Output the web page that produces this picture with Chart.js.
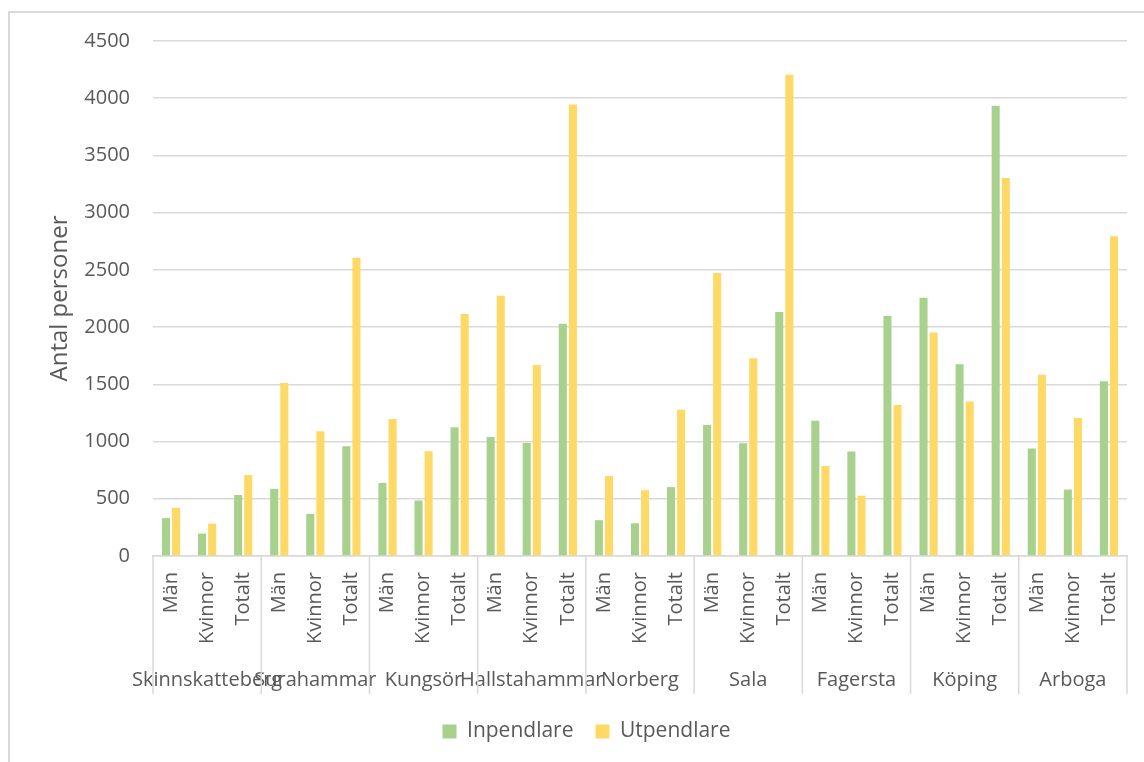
<!DOCTYPE html>
<html lang="sv">
<head>
<meta charset="utf-8">
<title>Pendling</title>
<script src="https://cdn.jsdelivr.net/npm/chart.js@4.4.1/dist/chart.umd.min.js"></script>
<style>
  html, body { margin: 0; padding: 0; background: #fff; }
  #wrap { position: relative; width: 1144px; height: 762px; overflow: hidden; }
  #frame { position: absolute; left: 8px; top: 11px; width: 1200px; height: 800px;
           border-left: 2px solid #d9d9d9; border-top: 2px solid #d9d9d9; }
  #chart { position: absolute; left: 0; top: 0; }
</style>
</head>
<body>
<div id="wrap">
  <div id="frame"></div>
  <canvas id="chart" width="1144" height="762"></canvas>
</div>
<script>
'use strict';
// kommuner och undergrupper
let municipalities = ['Skinnskatteberg', 'Surahammar', 'Kungsör', 'Hallstahammar', 'Norberg', 'Sala', 'Fagersta', 'Köping', 'Arboga'];
let subLabels = ['Män', 'Kvinnor', 'Totalt'];
// värden per kommun: män, kvinnor, totalt
let inpendlare = [331, 196, 533, 587, 367, 958, 639, 485, 1126, 1039, 988, 2030, 313, 286, 602, 1145, 985, 2132, 1181, 913, 2096, 2256, 1675, 3934, 940, 581, 1527];
let utpendlare = [422, 283, 708, 1512, 1090, 2605, 1196, 916, 2114, 2274, 1669, 3946, 699, 575, 1277, 2473, 1729, 4205, 786, 527, 1319, 1952, 1349, 3304, 1584, 1205, 2795];
let yTicks = [0, 500, 1000, 1500, 2000, 2500, 3000, 3500, 4000, 4500];

let textColor = '#595959';
let gridColor = '#d9d9d9';
let fontFamily = '"Open Sans", "DejaVu Sans", sans-serif';

let labels = [];
for (let i = 0; i < municipalities.length; i++) {
  for (let j = 0; j < subLabels.length; j++) {
    labels.push(subLabels[j]);
  }
}

// tvånivåaxel: roterade etiketter, kommunnamn och avdelare
const groupAxis = {
  id: 'groupAxis',
  afterDraw(chart) {
    const ctx = chart.ctx;
    const x = chart.scales.x;
    const area = chart.chartArea;
    const top = area.bottom;
    const n = subLabels.length;

    ctx.save();
    ctx.fillStyle = textColor;
    ctx.font = '20px ' + fontFamily;

    // undergruppsetiketter, lodräta
    for (let i = 0; i < labels.length; i++) {
      const px = x.getPixelForValue(i);
      ctx.save();
      ctx.translate(px, top + 16);
      ctx.rotate(-Math.PI / 2);
      ctx.textAlign = 'right';
      ctx.textBaseline = 'middle';
      ctx.fillText(labels[i], 0, 0);
      ctx.restore();
    }

    // kommunnamn
    ctx.textAlign = 'center';
    ctx.textBaseline = 'middle';
    for (let g = 0; g < municipalities.length; g++) {
      const a = x.getPixelForValue(g * n);
      const b = x.getPixelForValue(g * n + n - 1);
      ctx.fillText(municipalities[g], (a + b) / 2, top + 124);
    }

    // avdelare mellan kommunerna
    ctx.strokeStyle = gridColor;
    ctx.lineWidth = 1.5;
    ctx.beginPath();
    for (let g = 0; g <= municipalities.length; g++) {
      let px;
      if (g === 0) px = area.left;
      else if (g === municipalities.length) px = area.right;
      else px = (x.getPixelForValue(g * n - 1) + x.getPixelForValue(g * n)) / 2;
      ctx.moveTo(px, top);
      ctx.lineTo(px, top + 138);
    }
    ctx.stroke();
    ctx.restore();
  }
};

const ctx = document.getElementById('chart');

new Chart(ctx, {
  type: 'bar',
  data: {
    labels: labels,
    datasets: [{
      label: 'Inpendlare',
      data: inpendlare,
      backgroundColor: '#a9d18e',
      borderWidth: 0,
      categoryPercentage: 0.56,
      barPercentage: 0.8
    },
    {
      label: 'Utpendlare',
      data: utpendlare,
      backgroundColor: '#ffd966',
      borderWidth: 0,
      categoryPercentage: 0.56,
      barPercentage: 0.8
    }]
  },
  options: {
    responsive: false,
    animation: false,
    layout: {
      padding: { left: 46, right: 17, top: 41, bottom: 10 }
    },
    plugins: {
      tooltip: { enabled: false },
      legend: {
        position: 'bottom',
        labels: {
          color: textColor,
          font: { family: fontFamily, size: 21 },
          boxWidth: 14,
          boxHeight: 14,
          padding: 22
        }
      }
    },
    scales: {
      x: {
        grid: { display: false },
        border: { color: gridColor, width: 1.5 },
        ticks: { display: false },
        afterFit(scale) { scale.height = 143; }
      },
      y: {
        min: 0,
        max: 4500,
        afterBuildTicks(scale) { scale.ticks = yTicks.map(v => ({ value: v })); },
        afterFit(scale) { scale.width = 107; },
        grid: { color: gridColor, lineWidth: 1.5, drawTicks: false },
        border: { display: false },
        ticks: {
          color: textColor,
          font: { family: fontFamily, size: 20 },
          padding: 23,
          callback: (v) => String(v)
        },
        title: {
          display: true,
          text: 'Antal personer',
          color: textColor,
          font: { family: fontFamily, size: 24 },
          padding: { top: 0, bottom: 0 }
        }
      }
    }
  },
  plugins: [groupAxis]
});
</script>
</body>
</html>
